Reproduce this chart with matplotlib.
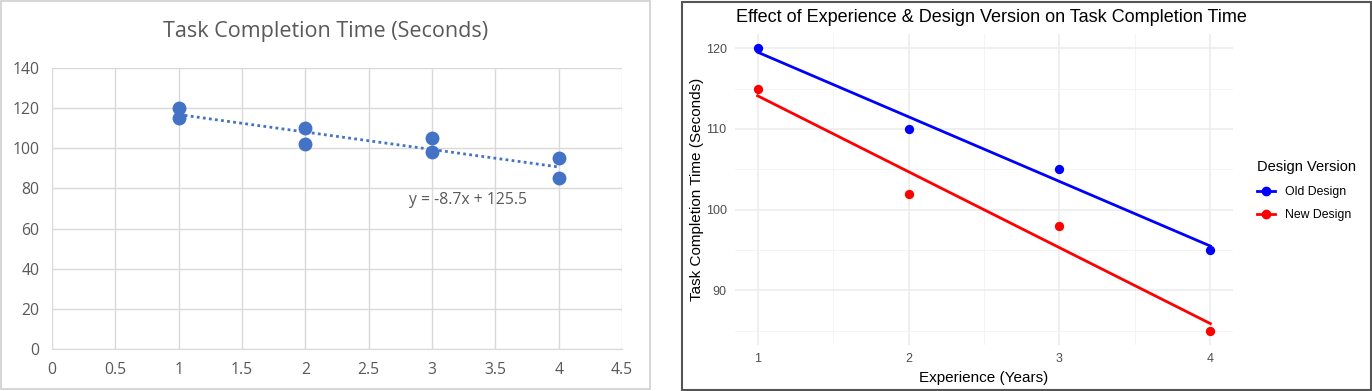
import numpy as np
import matplotlib
matplotlib.use("Agg")
import matplotlib.pyplot as plt
from matplotlib.lines import Line2D
from matplotlib.patches import Rectangle

# data
experience = [1, 2, 3, 4]
old_design = [120, 110, 105, 95]
new_design = [115, 102, 98, 85]
design_labels = ["Old Design", "New Design"]

left_xticks = [0, 0.5, 1, 1.5, 2, 2.5, 3, 3.5, 4, 4.5]
left_yticks = [0, 20, 40, 60, 80, 100, 120, 140]
right_xticks = [1, 2, 3, 4]
right_yticks = [90, 100, 110, 120]


def main():
    W, H = 1372, 391
    fig = plt.figure(figsize=(W / 100, H / 100), dpi=100)

    # panel frames
    fig.patches.append(Rectangle((1 / W, 1 - 389 / H), 649 / W, 388 / H,
                                 transform=fig.transFigure, fill=False,
                                 edgecolor="#d0d0d0", linewidth=1.2))
    fig.patches.append(Rectangle((681.5 / W, 1 - 390 / H), 689 / W, 388 / H,
                                 transform=fig.transFigure, fill=False,
                                 edgecolor="#555555", linewidth=1.5))

    plot_excel(fig, W, H)
    plot_ggplot(fig, W, H)

    fig.savefig("out.png", dpi=100)


def plot_excel(fig, W, H):
    # left panel, excel style
    font = "Open Sans"
    ax = fig.add_axes([52 / W, 1 - 349 / H, 570 / W, 281 / H])
    xs = experience + experience
    ys = old_design + new_design
    ax.scatter(xs, ys, s=100, color="#4472C4", zorder=3, linewidths=0)

    slope, intercept = np.polyfit(xs, ys, 1)
    fx = np.array([min(experience), max(experience)])
    ax.plot(fx, slope * fx + intercept, linestyle=(0, (1, 1.2)),
            color="#4472C4", linewidth=2, zorder=2)
    ax.text(2.82, 74, "y = %.1fx + %.1f" % (slope, intercept), fontsize=11.3,
            color="#595959", family=font, va="center", ha="left")

    ax.set_xlim(0, 4.5)
    ax.set_ylim(0, 140)
    ax.set_xticks(left_xticks)
    ax.set_xticklabels([("%g" % t) for t in left_xticks])
    ax.set_yticks(left_yticks)
    ax.grid(True, color="#d9d9d9", linewidth=1)
    ax.set_axisbelow(True)
    for s in ["top", "right", "left"]:
        ax.spines[s].set_visible(False)
    ax.spines["bottom"].set_color("#d9d9d9")
    ax.tick_params(length=0, labelsize=11.3, colors="#595959", pad=9)
    for lab in ax.get_xticklabels() + ax.get_yticklabels():
        lab.set_family(font)
    fig.text(326 / W, 1 - 31 / H, "Task Completion Time (Seconds)",
             ha="center", va="center", fontsize=15.5, color="#595959",
             family=font)


def plot_ggplot(fig, W, H):
    # right panel, ggplot minimal style
    font = "Liberation Sans"
    ax = fig.add_axes([735 / W, 1 - 345 / H, 498 / W, 311 / H])
    colors = ["blue", "red"]
    for ys, c in zip([old_design, new_design], colors):
        slope, intercept = np.polyfit(experience, ys, 1)
        fx = np.array([min(experience), max(experience)])
        ax.plot(fx, slope * fx + intercept, color=c, linewidth=2, zorder=2)
        ax.scatter(experience, ys, s=45, color=c, zorder=3, linewidths=0)

    ax.set_xlim(0.85, 4.15)
    ax.set_ylim(83.25, 121.75)
    ax.set_xticks(right_xticks)
    ax.set_yticks(right_yticks)
    ax.set_xticks([1.5, 2.5, 3.5], minor=True)
    ax.set_yticks([85, 95, 105, 115], minor=True)
    ax.grid(True, which="major", color="#ebebeb", linewidth=1.1)
    ax.grid(True, which="minor", color="#f2f2f2", linewidth=0.6)
    ax.set_axisbelow(True)
    for s in ax.spines.values():
        s.set_visible(False)
    ax.tick_params(which="both", length=0, labelsize=9, colors="#4d4d4d",
                   pad=6)
    for lab in ax.get_xticklabels() + ax.get_yticklabels():
        lab.set_family(font)
    ax.set_xlabel("Experience (Years)", fontsize=11, family=font, labelpad=4)
    ax.set_ylabel("Task Completion Time (Seconds)", fontsize=11, family=font,
                  labelpad=1)
    fig.text(736 / W, 1 - 18 / H,
             "Effect of Experience & Design Version on Task Completion Time",
             ha="left", va="center", fontsize=13, family=font)

    handles = [Line2D([], [], color=c, marker="o", markersize=6, linewidth=2)
               for c in colors]
    leg = fig.legend(handles, design_labels, title="Design Version",
                     loc="upper left", bbox_to_anchor=(1257 / W, 1 - 160 / H),
                     frameon=False, borderpad=0, borderaxespad=0,
                     prop={"family": font, "size": 8.8},
                     title_fontproperties={"family": font, "size": 10.5},
                     handlelength=1.5, handletextpad=0.8, labelspacing=0.85)
    leg._legend_box.align = "left"
    leg._legend_box.sep = 9


if __name__ == "__main__":
    main()
